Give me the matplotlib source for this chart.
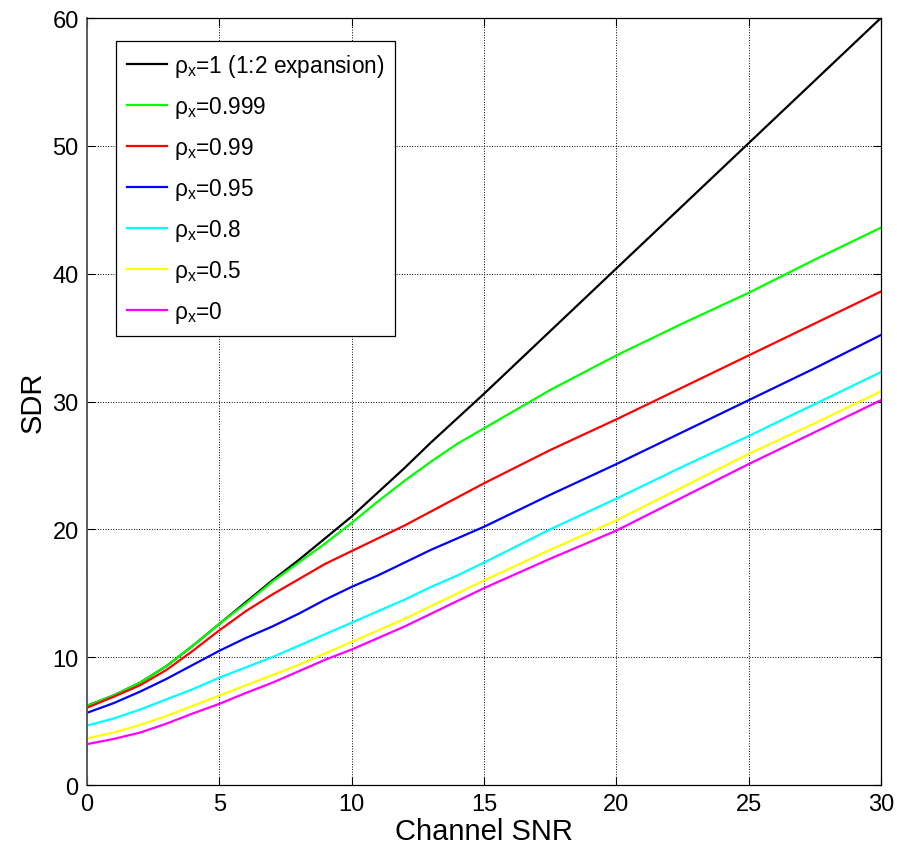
import matplotlib
matplotlib.use("Agg")
import matplotlib.pyplot as plt

plt.rcParams['font.family'] = ['Liberation Sans', 'DejaVu Sans']

# channel SNR sample points
snr = [0, 1, 2, 3, 4, 5, 6, 7, 8, 9, 10, 11, 12, 13, 14, 15,
       17.5, 20, 22.5, 25, 27.5, 30]

# SDR for each source correlation rho_x
sdr_rho_1    = [6.2, 7.0, 8.0, 9.3, 10.9, 12.6, 14.3, 16.0, 17.6, 19.3, 21.0,
                22.9, 24.8, 26.8, 28.7, 30.6, 35.5, 40.4, 45.3, 50.2, 55.1, 60.0]
sdr_rho_0999 = [6.2, 7.0, 8.0, 9.3, 10.9, 12.6, 14.2, 15.9, 17.4, 18.9, 20.5,
                22.2, 23.8, 25.3, 26.7, 27.9, 30.9, 33.6, 36.1, 38.5, 41.1, 43.6]
sdr_rho_099  = [6.05, 6.9, 7.8, 9.0, 10.5, 12.1, 13.6, 14.9, 16.1, 17.3, 18.3,
                19.3, 20.3, 21.4, 22.5, 23.6, 26.2, 28.6, 31.1, 33.6, 36.1, 38.6]
sdr_rho_095  = [5.65, 6.4, 7.3, 8.3, 9.4, 10.5, 11.5, 12.4, 13.4, 14.5, 15.5,
                16.4, 17.4, 18.4, 19.3, 20.2, 22.7, 25.1, 27.6, 30.1, 32.6, 35.2]
sdr_rho_08   = [4.65, 5.2, 5.9, 6.7, 7.5, 8.4, 9.2, 10.0, 10.9, 11.8, 12.7,
                13.6, 14.5, 15.5, 16.4, 17.4, 20.0, 22.4, 24.9, 27.3, 29.8, 32.3]
sdr_rho_05   = [3.65, 4.1, 4.7, 5.4, 6.2, 7.0, 7.8, 8.6, 9.4, 10.3, 11.2,
                12.1, 13.0, 14.0, 15.0, 16.0, 18.4, 20.7, 23.3, 25.9, 28.3, 30.8]
sdr_rho_0    = [3.2, 3.6, 4.1, 4.8, 5.6, 6.35, 7.2, 8.0, 8.9, 9.8, 10.6,
                11.5, 12.4, 13.4, 14.4, 15.4, 17.7, 19.9, 22.5, 25.1, 27.6, 30.1]

labels = ['1 (1:2 expansion)', '0.999', '0.99', '0.95', '0.8', '0.5', '0']
colors = ['#000000', '#00ff00', '#ff0000', '#0000ff', '#00ffff', '#ffff00', '#ff00ff']
series = [sdr_rho_1, sdr_rho_0999, sdr_rho_099, sdr_rho_095,
          sdr_rho_08, sdr_rho_05, sdr_rho_0]

fig = plt.figure(figsize=(8.97, 8.45), dpi=100)
ax = fig.add_axes([0.097, 0.0698, 0.885, 0.9077])

for y, lab, c in zip(series, labels, colors):
    ax.plot(snr, y, color=c, lw=1.6, label='ρ$_\\mathregular{x}$=' + lab)

ax.set_xlim(0, 30)
ax.set_ylim(0, 60)
ax.set_xticks(range(0, 31, 5))
ax.set_yticks(range(0, 61, 10))
ax.grid(True, linestyle=':', color='black', lw=0.7)
ax.tick_params(direction='in', top=True, right=True, length=6,
               labelsize=17, pad=6)
for sp in ax.spines.values():
    sp.set_color('black')
    sp.set_linewidth(0.9)
ax.spines['left'].set_color('#555555')
ax.spines['left'].set_linewidth(1.3)

ax.set_xlabel('Channel SNR', fontsize=21, labelpad=1)
ax.set_ylabel('SDR', fontsize=21, labelpad=4)

leg = ax.legend(loc='upper left', bbox_to_anchor=(0.0365, 0.970),
                borderaxespad=0, fontsize=16.3, fancybox=False,
                edgecolor='black', framealpha=1, handlelength=1.75,
                handletextpad=0.3, labelspacing=0.66, borderpad=0.5)
leg.get_frame().set_linewidth(0.9)

fig.savefig('out.png', dpi=100)
